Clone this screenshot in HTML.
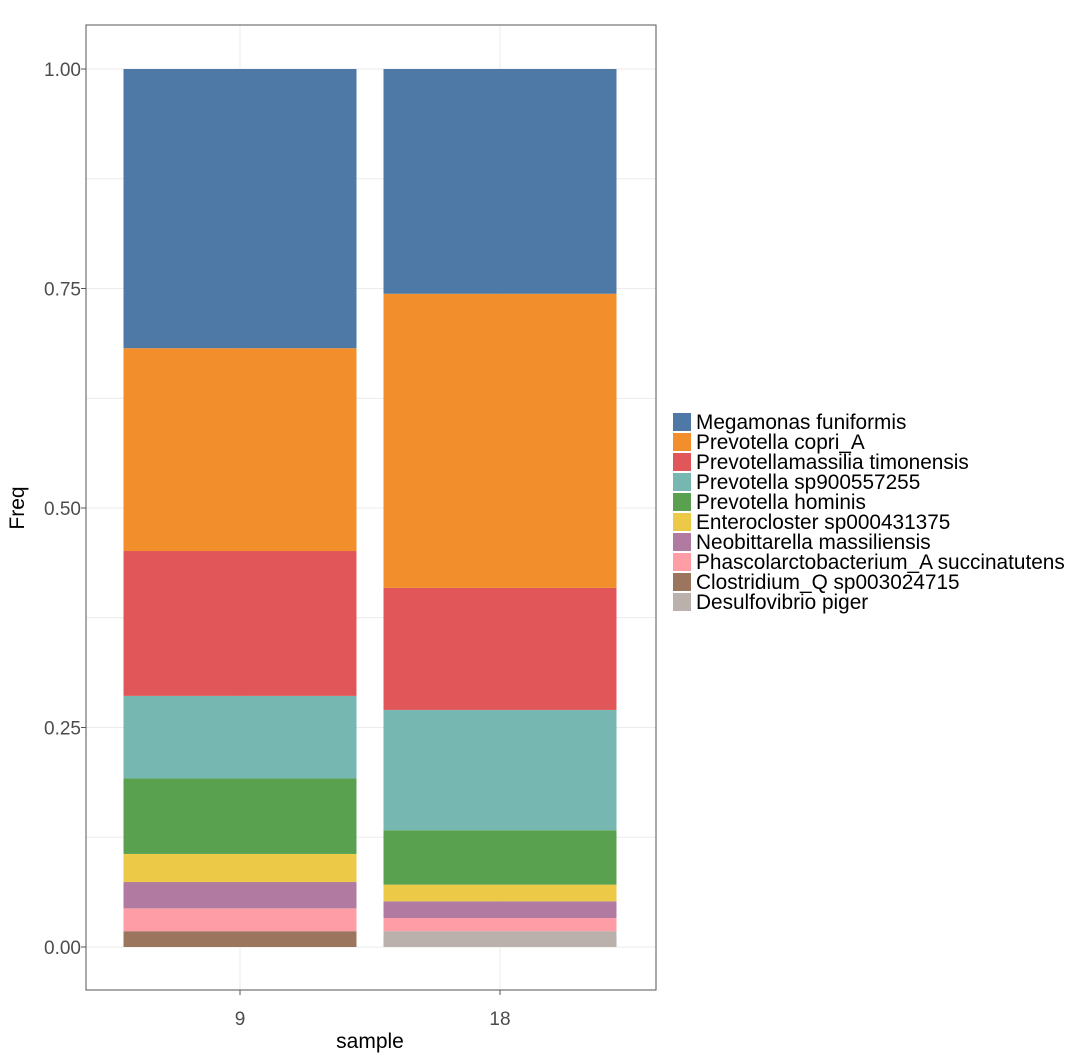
<!DOCTYPE html>
<html><head><meta charset="utf-8"><style>
body{margin:0;background:#fff;width:1080px;height:1057px;overflow:hidden;font-family:"Liberation Sans",sans-serif}
</style></head><body>
<svg id="chart" width="1080" height="1057" xmlns="http://www.w3.org/2000/svg" font-family="Liberation Sans, sans-serif"></svg>
<script>
const samples = ["9", "18"];
const species = ["Megamonas funiformis","Prevotella copri_A","Prevotellamassilia timonensis","Prevotella sp900557255","Prevotella hominis","Enterocloster sp000431375","Neobittarella massiliensis","Phascolarctobacterium_A succinatutens","Clostridium_Q sp003024715","Desulfovibrio piger"];
const colors = ["#4e79a7","#f28e2b","#e15759","#76b7b2","#59a14f","#edc948","#b07aa1","#ff9da7","#9c755f","#bab0ac"];
const freq9 = [0.318,0.231,0.165,0.094,0.086,0.032,0.030,0.026,0.018,0.0];
const freq18 = [0.256,0.335,0.139,0.137,0.062,0.019,0.019,0.015,0.0,0.018];
const yTicks = [0, 0.25, 0.5, 0.75, 1.0];
const yTickLabels = ["0.00","0.25","0.50","0.75","1.00"];

const svg = document.getElementById('chart');
const NS = "http://www.w3.org/2000/svg";
const P = {l:86, r:656, t:25, b:990};
const y = v => 947 - v * 878;
const xCenter = i => 240 + i * 260;
const barW = 233;
function mk(tag, attrs, parent){ const e=document.createElementNS(NS,tag); for(const k in attrs) e.setAttribute(k,attrs[k]); (parent||svg).appendChild(e); return e; }

const grid = mk('g',{});


for (let v=0; v<=1.0001; v+=0.125) {
  mk('line',{x1:P.l,x2:P.r,y1:y(v),y2:y(v),stroke:'#ebebeb','stroke-width':1},grid);
}
samples.forEach((s,i)=>mk('line',{x1:xCenter(i),x2:xCenter(i),y1:P.t,y2:P.b,stroke:'#ebebeb','stroke-width':1},grid));

const series = [freq9, freq18];
samples.forEach((s,i)=>{
  const g = mk('g',{});
  
  
  let cum = 0;
  for (let k=species.length-1; k>=0; k--) {
    const v = series[i][k];
    if (v <= 0) continue;
    const r = mk('rect',{x:xCenter(i)-barW/2, y:y(cum+v), width:barW, height:v*878, fill:colors[k]},g);
    
    
    cum += v;
  }
});

const frame = mk('rect',{x:P.l,y:P.t,width:P.r-P.l,height:P.b-P.t,fill:'none',stroke:'#555','stroke-width':1});



yTicks.forEach((v,i)=>{
  mk('line',{x1:P.l-5,x2:P.l,y1:y(v),y2:y(v),stroke:'#555'});
  const t = mk('text',{x:P.l-5,y:y(v)+7,'text-anchor':'end','font-size':19,fill:'#4d4d4d'});
  t.textContent = yTickLabels[i];
  
  
});
samples.forEach((s,i)=>{
  mk('line',{x1:xCenter(i),x2:xCenter(i),y1:P.b,y2:P.b+5,stroke:'#555'});
  const t = mk('text',{x:xCenter(i),y:1025,'text-anchor':'middle','font-size':19,fill:'#4d4d4d'});
  t.textContent = s;
  
  
});
const xt = mk('text',{x:370,y:1048,'text-anchor':'middle','font-size':21,fill:'#000'});
xt.textContent='sample';


const yt = mk('text',{x:0,y:0,'text-anchor':'middle','font-size':21,fill:'#000',transform:'translate(24,508) rotate(-90)'});
yt.textContent='Freq';



const lg = mk('g',{});


species.forEach((sp,k)=>{
  const yy = 413 + k*20;
  const r = mk('rect',{x:673,y:yy,width:18,height:18,fill:colors[k]},lg);
  
  
  const t = mk('text',{x:696,y:yy+16,'font-size':20.8,fill:'#000'},lg);
  t.textContent = sp;
  
  
});
</script>
</body></html>
